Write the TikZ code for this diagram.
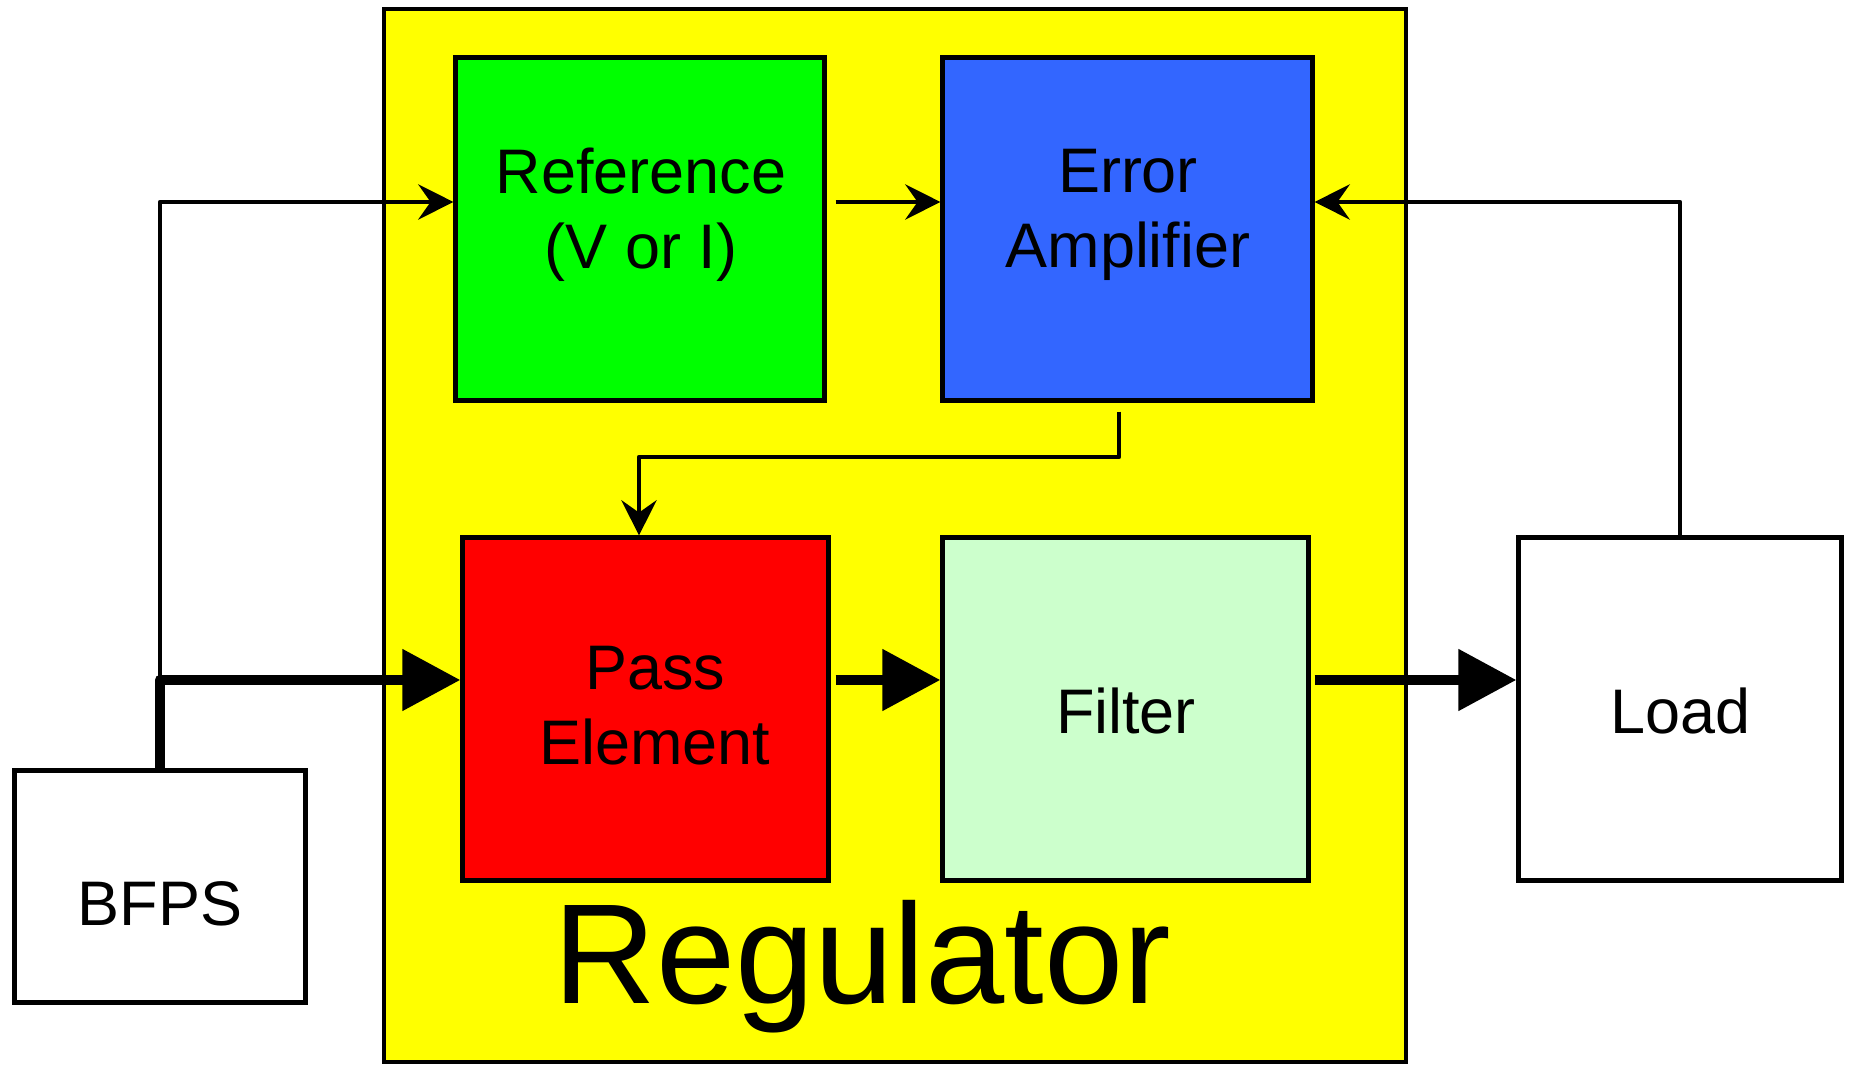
\documentclass[tikz,border=0pt]{standalone}
\usepackage{fontspec}
\setmainfont{Liberation Sans}
\usetikzlibrary{arrows.meta}
\definecolor{regyellow}{HTML}{FFFF00}
\definecolor{refgreen}{HTML}{00FF00}
\definecolor{errblue}{HTML}{3366FF}
\definecolor{passred}{HTML}{FF0000}
\definecolor{filtgreen}{HTML}{CCFFCC}
\tikzset{
  block/.style={draw, line width=1.4pt, inner sep=0pt, minimum height=3.42cm},
  blocktext/.style={inner sep=0pt, align=center,
    font=\fontsize{17.9}{21.4}\selectfont},
  sig/.style={line width=1.3pt, line join=round,
    -{Stealth[length=10pt, width=10pt, inset=3.5pt]}},
  power/.style={line width=3.1pt, line join=round,
    -{Triangle[length=16.5pt, width=16.8pt]}},
}

\begin{document}
\begin{tikzpicture}[x=0.01cm, y=-0.01cm]
            \useasboundingbox (0, 0) rectangle (1849, 1065);
            \draw[line width=1.4pt, fill=regyellow](384, 9) rectangle (1406, 1062);
            \node (regname) at (862, 967) {\fontsize{40.5}{45}\selectfont Regulator};
            % blocks
            \node[block, fill=refgreen, minimum width=3.68cm] (ref) at (640, 229) {};
            \node[block, fill=errblue, minimum width=3.69cm] (err) at (1127.5, 229) {};
            \node[block, fill=passred, minimum width=3.65cm] (pass) at (645.5, 709) {};
            \node[block, fill=filtgreen, minimum width=3.65cm] (filt) at (1125.5, 709) {};
            \node[block, fill=white, minimum width=3.22cm] (load) at (1680, 709) {};
            \node[block, fill=white, minimum width=2.90cm, minimum height=2.31cm] (bfps) at (160, 886.5) {};
            % texts
            \node[blocktext] (reftext) at (641, 215) {Reference\\(V or I)};
            \node[blocktext] (errtext) at (1128, 215) {Error\\Amplifier};
            \node[blocktext] (passtext) at (655, 706) {Pass\\Element};
            \node[blocktext] (filttext) at (1126, 711) {Filter};
            \node[blocktext] (loadtext) at (1680, 711) {Load};
            \node[blocktext] (bfpstext) at (160, 904) {BFPS};
            \coordinate (sigrail) at (0, 202);
            \coordinate (mainrail) at (0, 680);
            \coordinate (fbturn) at (0, 457);
            % control signals
            \draw[sig](bfps.north |- mainrail) |- (ref.west |- sigrail);
            \draw[sig]([xshift=0.09cm]ref.east |- sigrail) -- (err.west |- sigrail);
            \draw[sig](load.north) |- (err.east |- sigrail);
            \draw[sig]([xshift=-0.085cm, yshift=-0.09cm]err.south) |- ([xshift=-0.065cm]pass.north |- fbturn) -- ([xshift=-0.065cm]pass.north);
            % power path
            \draw[power]([yshift=-0.04cm]bfps.north) -- (bfps.north |- mainrail) -- (pass.west |- mainrail);
            \draw[power]([xshift=0.05cm]pass.east |- mainrail) -- (filt.west |- mainrail);
            \draw[power]([xshift=0.04cm]filt.east |- mainrail) -- (load.west |- mainrail);
        \end{tikzpicture}
\end{document}
